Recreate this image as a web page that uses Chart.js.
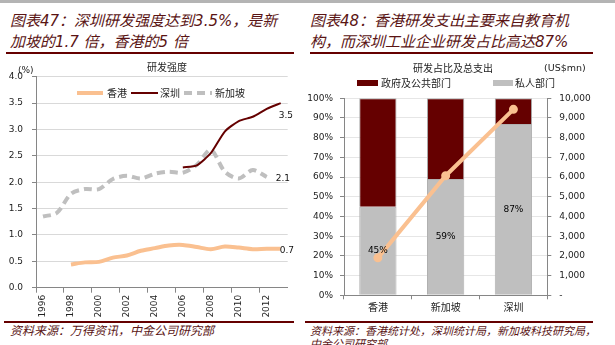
<!DOCTYPE html>
<html>
<head>
<meta charset="utf-8">
<script src="https://cdn.jsdelivr.net/npm/chart.js"></script>
<style>
  body { margin: 0; width: 615px; height: 345px; overflow: hidden; background: #fff; position: relative;
         font-family: "DejaVu Sans", "Noto Sans CJK SC", sans-serif; }
  .abs { position: absolute; }
  .title { font-size: 15px; line-height: 21px; font-style: italic; color: #5a1414; white-space: nowrap; }
  .rule { background: #650000; height: 2px; }
  .source { font-size: 11px; line-height: 13px; font-style: italic; color: #5a1414; white-space: nowrap; }
  .small { font-size: 10px; color: #222; white-space: nowrap; font-family: "Noto Sans CJK SC", sans-serif; line-height: 12px; }
</style>
</head>
<body>
<div class="abs" style="left:0;top:0;width:615px;height:3px;background:#b4b4b4"></div>

<!-- left panel -->
<div class="abs title" style="left:10px;top:11px">图表47：深圳研发强度达到3.5%，是新<br>加坡的1.7 倍，香港的5 倍</div>
<div class="abs rule" style="left:6px;top:52px;width:288px"></div>
<div class="abs" style="left:0;top:56px;width:300px;height:265px"><canvas id="left"></canvas></div>
<div class="abs small" style="left:147px;top:61px">研发强度</div>
<div class="abs small" style="left:18px;top:64px;font-family:'DejaVu Sans';font-size:9px">(%)</div>
<div class="abs" style="left:77px;top:87px;width:170px;height:12px">
  <svg width="170" height="12" style="position:absolute;left:0;top:0">
    <line x1="0" y1="6" x2="26" y2="6" stroke="#fac090" stroke-width="4"/>
    <line x1="54" y1="6" x2="81" y2="6" stroke="#650000" stroke-width="2"/>
    <line x1="107" y1="6" x2="135" y2="6" stroke="#bfbfbf" stroke-width="4" stroke-dasharray="8,5"/>
  </svg>
  <span class="abs small" style="left:30px;top:0">香港</span>
  <span class="abs small" style="left:83px;top:0">深圳</span>
  <span class="abs small" style="left:138px;top:0">新加坡</span>
</div>
<div class="abs rule" style="left:4px;top:321px;width:290px"></div>
<div class="abs source" style="left:10px;top:325px;font-size:12px">资料来源：万得资讯，中金公司研究部</div>

<!-- right panel -->
<div class="abs title" style="left:310px;top:11px">图表48：香港研发支出主要来自教育机<br>构，而深圳工业企业研发占比高达87%</div>
<div class="abs rule" style="left:310px;top:52px;width:283px"></div>
<div class="abs" style="left:305px;top:56px;width:310px;height:265px"><canvas id="right"></canvas></div>
<div class="abs small" style="left:413px;top:62px">研发占比及总支出</div>
<div class="abs small" style="left:544px;top:62px;font-family:'DejaVu Sans';font-size:9.5px">(US$mn)</div>
<div class="abs" style="left:357px;top:80px;width:21px;height:6px;background:#650000"></div>
<div class="abs small" style="left:381px;top:77px">政府及公共部门</div>
<div class="abs" style="left:493px;top:80px;width:20px;height:6px;background:#bfbfbf"></div>
<div class="abs small" style="left:515px;top:77px">私人部门</div>
<div class="abs rule" style="left:305px;top:321px;width:288px"></div>
<div class="abs source" style="left:310px;top:325px">资料来源：香港统计处，深圳统计局，新加坡科技研究局，<br>中金公司研究部</div>

<script>
// 研发强度 (%)
const years = ["1996", "1997", "1998", "1999", "2000", "2001", "2002", "2003", "2004",
  "2005", "2006", "2007", "2008", "2009", "2010", "2011", "2012", "2013"];
const hongKong = [null, null, 0.44, 0.48, 0.49, 0.57, 0.61, 0.70, 0.75,
  0.80, 0.81, 0.77, 0.73, 0.78, 0.76, 0.73, 0.74, 0.74];
const shenzhen = [null, null, null, null, null, null, null, null, null,
  null, 2.28, 2.32, 2.55, 2.96, 3.16, 3.24, 3.39, 3.50];
const singapore = [1.35, 1.42, 1.78, 1.87, 1.87, 2.06, 2.12, 2.07, 2.16,
  2.20, 2.18, 2.33, 2.61, 2.20, 2.07, 2.23, 2.10, null];

// 研发占比及总支出
const regions = ["香港", "新加坡", "深圳"];
const privateShare = [45, 59, 87];
const publicShare = [55, 41, 13];
const totalSpend = [1900, 6070, 9440]; // US$mn

const tickFont = { family: "DejaVu Sans", size: 9 };
const cjkFont = { family: "Noto Sans CJK SC", size: 10 };
const axisGray = "#868686";

// 折线末端数值标签
const endLabels = {
  id: "endLabels",
  afterDatasetsDraw(chart) {
    const ctx = chart.ctx;
    const shifts = [[-1, 1.5], [-2, 13], [9, 2]];
    ctx.save();
    ctx.font = "9px DejaVu Sans";
    ctx.fillStyle = "#111";
    ctx.textAlign = "left";
    ctx.textBaseline = "middle";
    chart.data.datasets.forEach((ds, i) => {
      let last = ds.data.length - 1;
      while (ds.data[last] == null) last--;
      const pt = chart.getDatasetMeta(i).data[last];
      ctx.fillText(ds.data[last].toFixed(1), pt.x + shifts[i][0], pt.y + shifts[i][1]);
    });
    ctx.restore();
  }
};

new Chart(document.getElementById("left"), {
  type: "line",
  data: {
    labels: years,
    datasets: [
      { label: "香港", data: hongKong, borderColor: "#fac090", borderWidth: 4, pointRadius: 0, tension: 0.3 },
      { label: "深圳", data: shenzhen, borderColor: "#650000", borderWidth: 2, pointRadius: 0, tension: 0.2 },
      { label: "新加坡", data: singapore, borderColor: "#bfbfbf", borderWidth: 4, borderDash: [8, 5],
        pointRadius: 0, tension: 0.3 }
    ]
  },
  options: {
    responsive: true,
    maintainAspectRatio: false,
    animation: false,
    layout: { padding: { top: 20.7, right: 12.3, left: 0, bottom: 0 } },
    plugins: { legend: { display: false }, tooltip: { enabled: false } },
    scales: {
      x: {
        offset: true,
        grid: {
          offset: true, drawOnChartArea: false, tickLength: 5,
          color: (c) => (c.index % 2 === 0 ? axisGray : "rgba(0,0,0,0)")
        },
        border: { color: axisGray },
        ticks: {
          autoSkip: false, minRotation: 90, maxRotation: 90, padding: 2,
          font: tickFont, color: "#222",
          callback: (v, i) => (i % 2 === 0 ? years[i] : "")
        },
        afterFit: (s) => { s.height = 33.3; }
      },
      y: {
        min: 0, max: 4,
        grid: { color: "#d9d9d9", tickColor: axisGray, tickLength: 4 },
        border: { color: axisGray },
        ticks: { stepSize: 0.5, padding: 9, font: tickFont, color: "#222", callback: (v) => v.toFixed(1) },
        afterFit: (s) => { s.width = 36; }
      }
    }
  },
  plugins: [endLabels]
});

// 私人部门占比标签
const barLabels = {
  id: "barLabels",
  afterDatasetsDraw(chart) {
    const ctx = chart.ctx;
    const meta = chart.getDatasetMeta(1);
    ctx.save();
    ctx.font = "9px DejaVu Sans";
    ctx.fillStyle = "#000";
    ctx.textAlign = "center";
    ctx.textBaseline = "middle";
    meta.data.forEach((bar, i) => {
      ctx.fillText(privateShare[i] + "%", bar.x, (bar.y + bar.base) / 2);
    });
    ctx.restore();
  }
};

new Chart(document.getElementById("right"), {
  type: "bar",
  data: {
    labels: regions,
    datasets: [
      { type: "line", label: "总支出", data: totalSpend, yAxisID: "y1", order: 0,
        borderColor: "#fac090", backgroundColor: "#fac090", borderWidth: 4,
        pointRadius: 2.5, pointHoverRadius: 2.5 },
      { label: "私人部门", data: privateShare, backgroundColor: "#bfbfbf", order: 1,
        borderColor: "#b0b0b0", borderWidth: 1, barPercentage: 0.55, categoryPercentage: 1 },
      { label: "政府及公共部门", data: publicShare, backgroundColor: "#650000", order: 1,
        borderColor: "#a8a8a8", borderWidth: 1, barPercentage: 0.55, categoryPercentage: 1 }
    ]
  },
  options: {
    responsive: true,
    maintainAspectRatio: false,
    animation: false,
    layout: { padding: { top: 42.3, right: 0, left: 0, bottom: 0 } },
    plugins: { legend: { display: false }, tooltip: { enabled: false } },
    scales: {
      x: {
        stacked: true,
        grid: { offset: true, drawOnChartArea: false, tickLength: 4, color: axisGray },
        border: { color: axisGray },
        ticks: { font: cjkFont, color: "#222", padding: 2 },
        afterFit: (s) => { s.height = 25.7; }
      },
      y: {
        stacked: true, min: 0, max: 100,
        grid: { color: "#e6e6e6", tickColor: axisGray, tickLength: 4 },
        border: { color: axisGray },
        ticks: { stepSize: 10, padding: 7, font: tickFont, color: "#222", callback: (v) => v + "%" },
        afterFit: (s) => { s.width = 39; }
      },
      y1: {
        position: "right", min: 0, max: 10000,
        grid: { drawOnChartArea: false, tickColor: axisGray, tickLength: 4 },
        border: { color: axisGray },
        ticks: {
          stepSize: 1000, padding: 8, font: tickFont, color: "#222",
          callback: (v) => (v === 0 ? "-" : v.toLocaleString("en-US"))
        },
        afterFit: (s) => { s.width = 67.7; }
      }
    }
  },
  plugins: [barLabels]
});
</script>
</body>
</html>
